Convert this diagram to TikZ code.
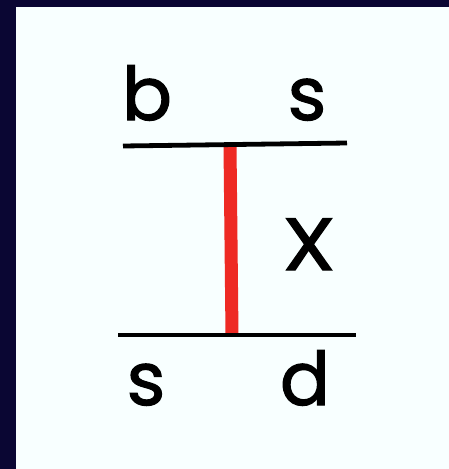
\documentclass[tikz,border=0pt]{standalone}
\usepackage{fontspec}
\setmainfont{Poppins}[FakeBold=1.6]
\definecolor{navy}{HTML}{0A0633}
\definecolor{panel}{HTML}{F8FFFF}
\definecolor{redbar}{HTML}{EE2A24}
\begin{document}
\begin{tikzpicture}[x=1pt,y=-1pt,
  lbl/.style={anchor=base,inner sep=0pt,font=\fontsize{74}{80}\selectfont},
  rail/.style={line width=4.8pt,black},
  prop/.style={line width=13pt,redbar}]
\fill[navy] (0,0) rectangle (449,469);
\fill[panel] (16,7) rectangle (449,469);
\useasboundingbox (0,0) rectangle (449,469);
\coordinate (t1) at (123,146);
\coordinate (t2) at (347,143);
\coordinate (b1) at (118,335);
\coordinate (b2) at (356,335);
\coordinate (r1) at (230,145);
\coordinate (r2) at (232,335);
\draw[prop] (r1) -- (r2);
\draw[rail] (t1) -- (t2);
\draw[rail] (b1) -- (b2);
\node[lbl] (b) at (147,120) {b};
\node[lbl] (s1) at (307,120) {s};
\node[lbl,xscale=1.15] (x) at (309,270) {X};
\node[lbl] (s2) at (146,405) {s};
\node[lbl] (d) at (305,405) {d};
\end{tikzpicture}
\end{document}
